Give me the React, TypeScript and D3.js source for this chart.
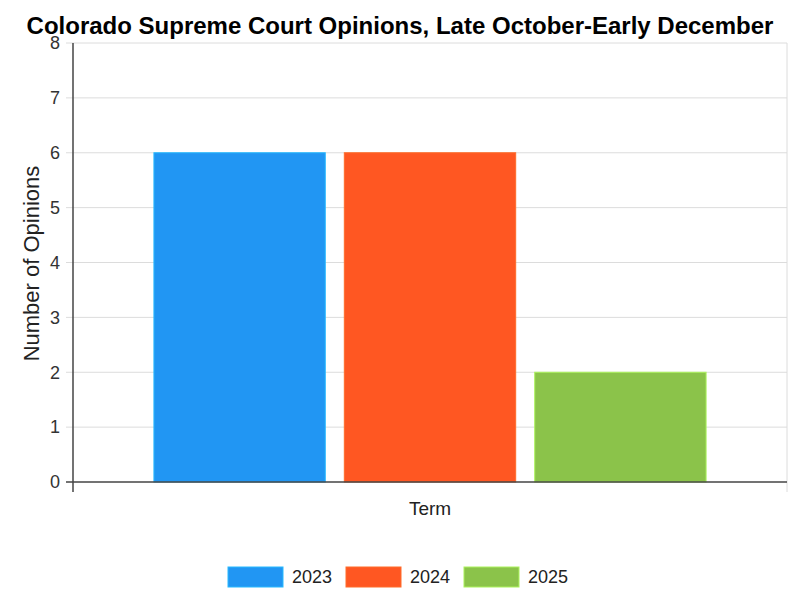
import { useEffect, useRef } from "react";
import * as d3 from "d3";

const categories = ["Term"];
const seriesNames = ["2023", "2024", "2025"];
const seriesValues = [6, 6, 2];
const seriesColors = ["#2196F3", "#FF5722", "#8BC34A"];
const yTicks = [0, 1, 2, 3, 4, 5, 6, 7, 8];

export default function App() {
  const svgRef = useRef<SVGSVGElement>(null);

  useEffect(() => {
    if (!svgRef.current) return;
    const svg = d3.select(svgRef.current);
    svg.selectAll("*").remove();

    const width = 800;
    const height = 600;
    const left = 73;
    const right = 787;
    const top = 43;
    const bottom = 482;
    const font = "Liberation Sans, Arial, sans-serif";

    const x = d3.scaleBand<string>().domain(categories).range([left, right]);
    const inner = d3
      .scaleBand<string>()
      .domain(seriesNames)
      .range([0, x.bandwidth() * 0.8])
      .paddingInner(0.1)
      .paddingOuter(0.05);
    const y = d3.scaleLinear().domain([0, 8]).range([bottom, top]);

    svg.attr("width", width).attr("height", height);

    // title
    svg
      .append("text")
      .attr("x", width / 2)
      .attr("y", 34)
      .attr("text-anchor", "middle")
      .attr("font-family", font)
      .attr("font-weight", "bold")
      .attr("font-size", "24px")
      .attr("fill", "#000")
      .text("Colorado Supreme Court Opinions, Late October-Early December");

    // grid
    const grid = svg.append("g");
    grid
      .selectAll("line")
      .data(yTicks.filter((t) => t > 0))
      .enter()
      .append("line")
      .attr("x1", left - 7)
      .attr("x2", right)
      .attr("y1", (d) => y(d))
      .attr("y2", (d) => y(d))
      .attr("stroke", "#dcdcdc")
      .attr("stroke-width", 1);

    grid
      .append("line")
      .attr("x1", right)
      .attr("x2", right)
      .attr("y1", top)
      .attr("y2", bottom + 10)
      .attr("stroke", "#dcdcdc");

    // bars
    const bandStart = (x(categories[0]) ?? 0) + x.bandwidth() * 0.1;
    svg
      .append("g")
      .selectAll("rect")
      .data(seriesValues)
      .enter()
      .append("rect")
      .attr("x", (_, i) => bandStart + (inner(seriesNames[i]) ?? 0))
      .attr("y", (d) => y(d))
      .attr("width", inner.bandwidth())
      .attr("height", (d) => y(0) - y(d))
      .attr("fill", (_, i) => seriesColors[i])
      .attr("stroke", (_, i) => d3.color(seriesColors[i])!.brighter(0.6).formatHex())
      .attr("stroke-width", 1);

    // y tick labels
    svg
      .append("g")
      .selectAll("text")
      .data(yTicks)
      .enter()
      .append("text")
      .attr("x", left - 13)
      .attr("y", (d) => y(d))
      .attr("dy", "0.35em")
      .attr("text-anchor", "end")
      .attr("font-family", font)
      .attr("font-size", "18px")
      .attr("fill", "#333")
      .text((d) => d);

    // axes lines
    svg
      .append("line")
      .attr("x1", left - 7)
      .attr("x2", right)
      .attr("y1", bottom)
      .attr("y2", bottom)
      .attr("stroke", "#444")
      .attr("stroke-width", 1.5);
    svg
      .append("line")
      .attr("x1", left)
      .attr("x2", left)
      .attr("y1", top)
      .attr("y2", bottom + 10)
      .attr("stroke", "#444")
      .attr("stroke-width", 1.5);

    // axis titles
    svg
      .append("text")
      .attr("transform", `translate(39,${(top + bottom) / 2 + 1}) rotate(-90)`)
      .attr("text-anchor", "middle")
      .attr("font-family", font)
      .attr("font-size", "22px")
      .attr("fill", "#222")
      .text("Number of Opinions");

    svg
      .append("text")
      .attr("x", (left + right) / 2)
      .attr("y", 515)
      .attr("text-anchor", "middle")
      .attr("font-family", font)
      .attr("font-size", "19px")
      .attr("fill", "#222")
      .text("Term");

    // legend
    const legend = svg.append("g");
    const itemW = 118;
    const legendStart = 228;
    seriesNames.forEach((name, i) => {
      const gx = legendStart + i * itemW;
      legend
        .append("rect")
        .attr("x", gx)
        .attr("y", 567)
        .attr("width", 55)
        .attr("height", 20)
        .attr("fill", seriesColors[i])
        .attr("stroke", d3.color(seriesColors[i])!.brighter(0.6).formatHex())
        .attr("stroke-width", 1);
      legend
        .append("text")
        .attr("x", gx + 64)
        .attr("y", 577)
        .attr("dy", "0.35em")
        .attr("font-family", font)
        .attr("font-size", "18px")
        .attr("fill", "#222")
        .text(name);
    });
  }, []);

  return (
    <div style={{ position: "absolute", left: 0, top: 0 }}>
      <svg ref={svgRef} style={{ display: "block" }} />
    </div>
  );
}
